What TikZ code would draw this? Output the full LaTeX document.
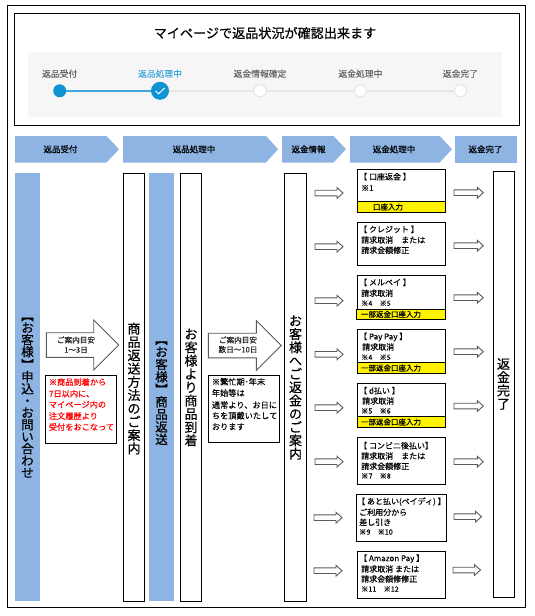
\documentclass[tikz,border=0pt]{standalone}
\usepackage{fontspec}
\setmainfont{Noto Sans CJK JP}
\newfontfamily\semibd[FakeBold=0.35]{Noto Sans CJK JP}
\newfontfamily\semilt[FakeBold=0.18]{Noto Sans CJK JP}
\newcommand{\rb}{\rotatebox[origin=c]{-90}{【}}
\newcommand{\re}{\rotatebox[origin=c]{-90}{】}}
\newcommand{\fs}[2]{\fontsize{#1}{#2}\selectfont}
\newcommand{\bigarr}[3]{% x0 base tip at y
  \draw[bigarrow] (#1,#3-12.3) -- (#2,#3-12.3) -- (#2,#3-25) -- (#2+25,#3) -- (#2,#3+25) -- (#2,#3+12.3) -- (#1,#3+12.3) -- cycle;}
\newcommand{\smarr}[3]{% x0 tip y
  \draw[smallarrow] (#1,#3-2.8) -- (#2-6,#3-2.8) -- (#2-6,#3-5.4) -- (#2,#3) -- (#2-6,#3+5.4) -- (#2-6,#3+2.8) -- (#1,#3+2.8) -- cycle;}
\tikzset{
  x=1pt,y=-1pt,
  bar/.style={draw=black,line width=1pt,fill=white},
  bluebar/.style={fill=barblue},
  chev/.style={fill=barblue},
  chevtext/.style={font=\semibd\fs{8.5}{10},inner sep=0,text=black},
  frameline/.style={draw=black,line width=1pt},
  bigarrow/.style={draw=arrowgray,line width=0.9pt,fill=white},
  smallarrow/.style={draw=arrowgray,line width=0.9pt,fill=white},
  vlabel/.style={font=\semibd\fs{13}{13.3},align=center,inner sep=0,text=black},
  vlabelb/.style={font=\semibd\fs{12.5}{12.5},align=center,inner sep=0,text=black},
  boxtext/.style={anchor=west,font=\semilt\fs{8}{10},inner sep=0,text=black},
  ytext/.style={font=\semilt\fs{7.5}{9},inner sep=0,text=black},
  steptext/.style={font=\semilt\fs{8.8}{10},inner sep=0,text=steptextgray},
  smalltext/.style={font=\semilt\fs{7.6}{9},inner sep=0,text=black!85},
  redtext/.style={anchor=west,font=\semibd\fs{8.2}{10},inner sep=0,text=red},
  notetext/.style={anchor=west,font=\semilt\fs{8.2}{10},inner sep=0,text=black},
  yellowbox/.style={draw=black,line width=1pt,fill=yellow},
}
\definecolor{barblue}{HTML}{8EB4E3}
\definecolor{arrowgray}{HTML}{5A5A5A}
\definecolor{steptextgray}{HTML}{666666}
\definecolor{panelgray}{HTML}{F6F6F6}
\definecolor{stepblue}{HTML}{0F93D2}
\definecolor{tracklight}{HTML}{E6E6E6}
\begin{document}
\begin{tikzpicture}
\useasboundingbox (0,0) rectangle (535,616);
\fill[white] (0,0) rectangle (535,616);
% frames
\draw[frameline] (7.5,5.5) rectangle (525.5,607.7);
\draw[frameline] (14.3,13.7) rectangle (519,125);
\node[font=\semibd\fs{13.1}{14},inner sep=0] (title) at (265,33) {マイページで返品状況が確認出来ます};
% status panel
\fill[panelgray] (28,52) rectangle (502,117);
\node[steptext] (s1) at (59.7,73.7) {返品受付};
\node[steptext,text=stepblue!80] (s2) at (160,73.7) {返品処理中};
\node[steptext] (s3) at (260,73.7) {返金情報確定};
\node[steptext] (s4) at (360.4,73.7) {返金処理中};
\node[steptext] (s5) at (460.4,73.7) {返金完了};
\draw[tracklight,line width=1.4pt] (160,90.8) -- (460.4,90.8);
\draw[stepblue!80,line width=1.4pt] (59.7,90.8) -- (160,90.8);
\fill[stepblue] (59.7,90.8) circle (6.5);
\fill[stepblue] (160,90.8) circle (9);
\draw[white,line width=1pt] (155.5,90.8) -- (158.6,93.8) -- (164.6,88);
\foreach \x in {260,360.4,460.4} \draw[tracklight,line width=1pt,fill=white] (\x,90.8) circle (6);
% chevrons
\fill[chev] (15,136) -- (106.5,136) -- (119,149.2) -- (106.5,162.5) -- (15,162.5) -- cycle;
\fill[chev] (123,136) -- (266,136) -- (278,149.2) -- (266,162.5) -- (123,162.5) -- cycle;
\fill[chev] (282,136) -- (333.5,136) -- (346,149.2) -- (333.5,162.5) -- (282,162.5) -- cycle;
\fill[chev] (350,136) -- (439.6,136) -- (452,149.2) -- (439.6,162.5) -- (350,162.5) -- cycle;
\fill[chev] (455,136) rectangle (517,162.5);
\node[chevtext] (c1) at (60.5,149.3) {返品受付};
\node[chevtext] (c2) at (194,149.3) {返品処理中};
\node[chevtext] (c3) at (308.5,149.3) {返金情報};
\node[chevtext] (c4) at (394,149.3) {返金処理中};
\node[chevtext] (c5) at (485.5,149.3) {返金完了};
% vertical bars
\fill[bluebar] (15,173) rectangle (40,601);
\draw[bar] (123.3,173.5) rectangle (144.7,601);
\fill[bluebar] (149,173) rectangle (174,601);
\draw[bar] (180.3,173.5) rectangle (201.7,601);
\draw[bar] (284.3,173.5) rectangle (306.7,601);
\draw[bar] (493,171.3) rectangle (514,597);
\node[vlabelb,font=\semibd\fs{12.5}{12}] (v1) at (27.5,393.5) {\rb\\お\\客\\様\\\re\\申\\込\\・\\お\\問\\い\\合\\わ\\せ};
\node[vlabel] (v2) at (134,388.5) {商\\品\\返\\送\\方\\法\\の\\ご\\案\\内};
\node[vlabelb] (v3) at (161.5,389) {\rb\\お\\客\\様\\\re\\商\\品\\返\\送};
\node[vlabel] (v4) at (191,387.5) {お\\客\\様\\よ\\り\\商\\品\\到\\着};
\node[vlabel] (v5) at (295.5,387.5) {お\\客\\様\\へ\\ご\\返\\金\\の\\ご\\案\\内};
\node[vlabel] (v6) at (503.5,384) {返\\金\\完\\了};
% big arrows
\bigarr{46.3}{93.7}{345}
\node[smalltext] (a1a) at (76,340) {ご案内目安};
\node[smalltext] (a1b) at (76,350) {1～3日};
\bigarr{208.3}{256.3}{345.5}
\node[smalltext] (a2a) at (238,340) {ご案内目安};
\node[smalltext] (a2b) at (238,349.5) {数日～10日};
% note boxes
\draw[bar] (45.3,375.7) rectangle (116.7,443.3);
\node[redtext] (r1) at (48.7,382) {※商品到着から};
\node[redtext] (r2) at (48.7,393.7) {7日以内に、};
\node[redtext] (r3) at (48.7,404.5) {マイページ内の};
\node[redtext] (r4) at (48.7,416) {注文履歴より};
\node[redtext] (r5) at (48.7,427) {受付をおこなって};
\draw[bar] (208.3,375.3) rectangle (279.3,442.3);
\node[notetext] (n1) at (211.7,381.7) {※繁忙期･年末};
\node[notetext] (n2) at (211.7,393) {年始等は};
\node[notetext] (n3) at (211.7,405) {通常より、お日に};
\node[notetext] (n4) at (211.7,415.7) {ちを頂戴いたして};
\node[notetext] (n5) at (211.7,426.7) {おります};
% small arrows
\smarr{315}{343}{193}
\smarr{315}{343}{246.7}
\smarr{315}{343}{300.7}
\smarr{315}{343}{354.3}
\smarr{315}{343}{407.7}
\smarr{315}{343}{461.7}
\smarr{314}{342}{517.7}
\smarr{314}{342}{570.7}
\smarr{454}{483.3}{192.7}
\smarr{454}{483.3}{245.7}
\smarr{454}{483.3}{297.7}
\smarr{454}{483.3}{351.7}
\smarr{454}{483.3}{406}
\smarr{454}{483.3}{461.7}
\smarr{454}{481.5}{516.7}
\smarr{453}{480.5}{570}
% payment boxes
\draw[bar] (357.3,169.7) rectangle (445.7,212.3);
\draw[yellowbox] (357.3,201.7) rectangle (445.7,212.3);
\node[boxtext] (p1a) at (359,176.7) {【 口座返金 】};
\node[boxtext] (p1b) at (361,188) {※1};
\node[ytext] (p1y) at (388,207) {口座入力};
\draw[bar] (357.3,222.3) rectangle (445.7,265.3);
\node[boxtext] (p2a) at (359,229.3) {【 クレジット 】};
\node[boxtext] (p2b) at (361,240) {請求取消　または};
\node[boxtext] (p2c) at (361,250.3) {請求金額修正};
\draw[bar] (357.3,275.3) rectangle (445.7,319.3);
\draw[yellowbox] (356.3,309.3) rectangle (445.7,319.3);
\node[boxtext] (p3a) at (359,282.3) {【 メルペイ 】};
\node[boxtext] (p3b) at (361,293.3) {請求取消};
\node[boxtext,font=\semilt\fs{7.2}{9}] (p3c) at (361,303.3) {※4　※5};
\node[ytext] (p3y) at (391,314.3) {一部返金口座入力};
\draw[bar] (357.3,329.3) rectangle (445.7,373.3);
\draw[yellowbox] (357.3,362.7) rectangle (445.7,373.3);
\node[boxtext] (p4a) at (359,337) {【 Pay Pay 】};
\node[boxtext] (p4b) at (362,347) {請求取消};
\node[boxtext,font=\semilt\fs{7.2}{9}] (p4c) at (361,357.3) {※4　※5};
\node[ytext] (p4y) at (391,368) {一部返金口座入力};
\draw[bar] (357.3,383.3) rectangle (445.7,427.3);
\draw[yellowbox] (357.3,416.3) rectangle (445.7,427.3);
\node[boxtext] (p5a) at (359,390.7) {【 d払い 】};
\node[boxtext] (p5b) at (362,401) {請求取消};
\node[boxtext,font=\semilt\fs{7.2}{9}] (p5c) at (361,411) {※5　※6};
\node[ytext] (p5y) at (391,422) {一部返金口座入力};
\draw[bar] (357.3,437.3) rectangle (445.7,484.3);
\node[boxtext] (p6a) at (359,445.7) {【 コンビニ後払い】};
\node[boxtext] (p6b) at (361,456) {請求取消　または};
\node[boxtext] (p6c) at (361,466.3) {請求金額修正};
\node[boxtext,font=\semilt\fs{7.2}{9}] (p6d) at (361,476) {※7　※8};
\draw[bar] (356.3,494.3) rectangle (446.7,541.3);
\node[boxtext] (p7a) at (357,501.7) {【 あと払い(ペイディ) 】};
\node[boxtext] (p7b) at (359,512.3) {ご利用分から};
\node[boxtext] (p7c) at (359,522.3) {差し引き};
\node[boxtext,font=\semilt\fs{7.2}{9}] (p7d) at (359,532) {※9　※10};
\draw[bar] (357.3,551.3) rectangle (445.7,598.3);
\node[boxtext] (p8a) at (359,558.7) {【 Amazon Pay 】};
\node[boxtext] (p8b) at (361,569) {請求取消 または};
\node[boxtext] (p8c) at (361,579) {請求金額修修正};
\node[boxtext,font=\semilt\fs{7.2}{9}] (p8d) at (361,589) {※11　※12};
\end{tikzpicture}
\end{document}
